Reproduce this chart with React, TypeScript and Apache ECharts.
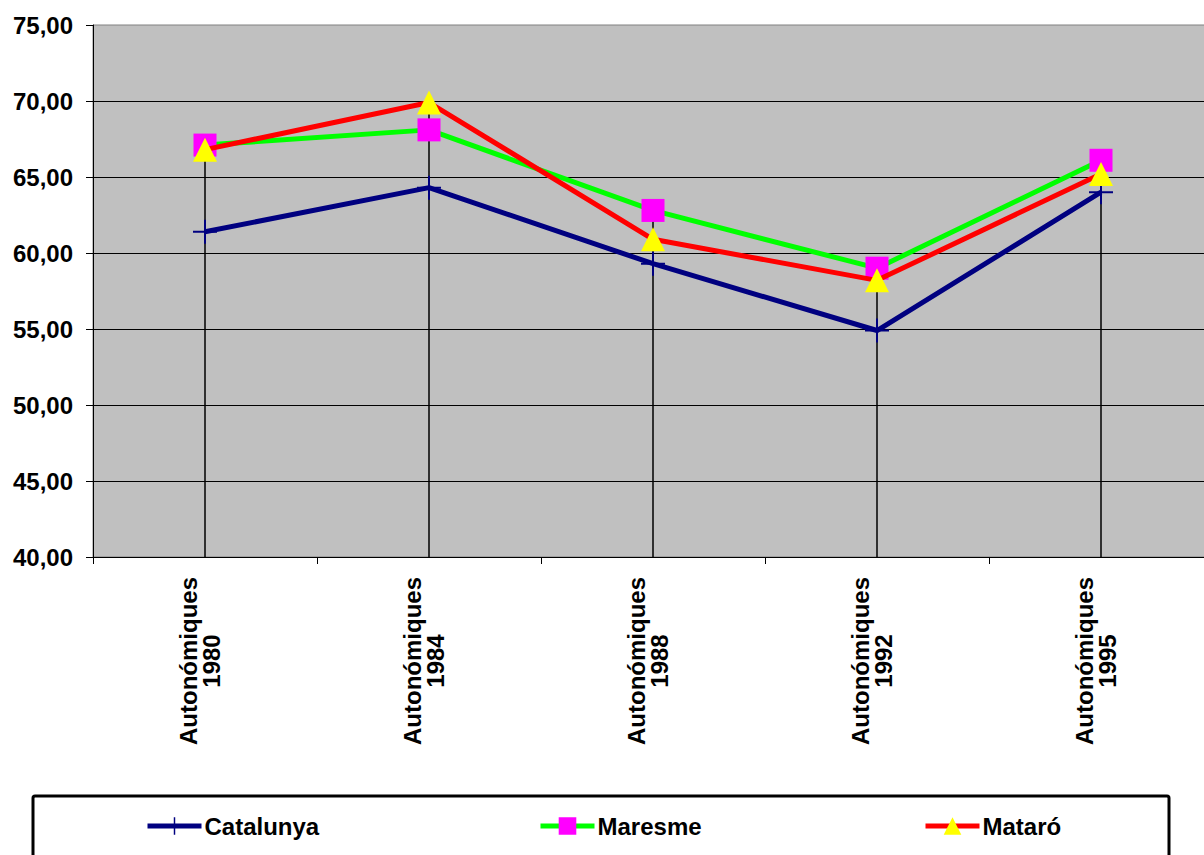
import React, { useEffect, useRef } from "react";
import * as echarts from "echarts";

const categories = [
  "Autonómiques\n1980",
  "Autonómiques\n1984",
  "Autonómiques\n1988",
  "Autonómiques\n1992",
  "Autonómiques\n1995",
];
const catalunya = [61.4, 64.3, 59.3, 54.9, 64.0];
const maresme = [67.1, 68.1, 62.8, 59.0, 66.1];
const mataro = [66.8, 69.9, 60.9, 58.2, 65.2];
const seriesNames = ["Catalunya", "Maresme", "Mataró"];
const yMin = 40;
const yMax = 75;
const yStep = 5;

const plusSymbol =
  "path://M-1,-12 h2 v11 h11 v2 h-11 v11 h-2 v-11 h-11 v-2 h11 z";

const FONT = "Arial, 'Liberation Sans', sans-serif";

export default function App() {
  const ref = useRef<HTMLDivElement>(null);
  useEffect(() => {
    if (!ref.current) return;
    const chart = echarts.init(ref.current, undefined, { renderer: "svg" });
    const dropData = categories.map((_, i) => [
      i,
      Math.max(catalunya[i], maresme[i], mataro[i]),
    ]);
    const legendBase = {
      top: 814,
      padding: 0,
      itemWidth: 54,
      itemHeight: 22,
      itemGap: 4,
      lineStyle: { width: 5 },
      textStyle: {
        fontFamily: FONT,
        fontWeight: "bold",
        fontSize: 24,
        color: "#000",
        padding: [0, 0, 0, -2],
      },
      selectedMode: false,
    };
    chart.setOption({
      animation: false,
      backgroundColor: "#fff",
      grid: {
        left: 93,
        top: 25,
        width: 1120,
        height: 532,
        show: true,
        backgroundColor: "#C0C0C0",
        borderColor: "#808080",
        borderWidth: 1,
      },
      legend: [
        { ...legendBase, left: 145, data: [seriesNames[0]] },
        { ...legendBase, left: 538, data: [seriesNames[1]] },
        { ...legendBase, left: 923, data: [seriesNames[2]] },
      ],
      graphic: [
        {
          type: "rect",
          z: -1,
          shape: { x: 33, y: 796, width: 1136, height: 120, r: 2 },
          style: { fill: "#fff", stroke: "#000", lineWidth: 3 },
        },
      ],
      xAxis: {
        type: "category",
        data: categories,
        boundaryGap: true,
        axisLine: { show: true, lineStyle: { color: "#000", width: 1 } },
        axisTick: { show: true, length: 7, lineStyle: { color: "#000" } },
        axisLabel: {
          rotate: 90,
          align: "center",
          verticalAlign: "middle",
          margin: 104,
          fontFamily: FONT,
          fontWeight: "bold",
          fontSize: 24,
          color: "#000",
          lineHeight: 23,
          interval: 0,
          formatter: (v: string) => v + "\n{s| }",
          rich: { s: { fontSize: 4, lineHeight: 10 } },
        },
        splitLine: { show: false },
      },
      yAxis: {
        type: "value",
        min: yMin,
        max: yMax,
        interval: yStep,
        axisLine: { show: true, lineStyle: { color: "#000", width: 1 } },
        axisTick: { show: true, length: 7, lineStyle: { color: "#000" } },
        axisLabel: {
          margin: 20,
          fontFamily: FONT,
          fontWeight: "bold",
          fontSize: 24,
          color: "#000",
          formatter: (v: number) => v.toFixed(2).replace(".", ","),
        },
        splitLine: {
          show: true,
          showMinLine: false,
          showMaxLine: false,
          lineStyle: { color: "#000", width: 1 },
        },
      },
      series: [
        {
          type: "custom",
          z: 1,
          silent: true,
          data: dropData,
          encode: { x: 0, y: 1 },
          renderItem: (params: any, api: any) => {
            const top = api.coord([api.value(0), api.value(1)]);
            const bottom = api.coord([api.value(0), yMin]);
            return {
              type: "line",
              shape: { x1: top[0], y1: top[1], x2: bottom[0], y2: bottom[1] },
              style: { stroke: "#000", lineWidth: 1.5 },
            };
          },
        },
        {
          name: seriesNames[0],
          type: "line",
          z: 2,
          data: catalunya,
          symbol: plusSymbol,
          symbolSize: 24,
          lineStyle: { color: "#000080", width: 5 },
          itemStyle: { color: "#000080" },
        },
        {
          name: seriesNames[1],
          type: "line",
          z: 3,
          data: maresme,
          symbol: "rect",
          symbolSize: 23,
          lineStyle: { color: "#00FF00", width: 5 },
          itemStyle: { color: "#FF00FF" },
        },
        {
          name: seriesNames[2],
          type: "line",
          z: 4,
          data: mataro,
          symbol: "triangle",
          symbolSize: [24, 24],
          lineStyle: { color: "#FF0000", width: 5 },
          itemStyle: { color: "#FFFF00" },
        },
      ],
    });
    return () => chart.dispose();
  }, []);
  return (
    <div
      style={{
        position: "fixed",
        left: 0,
        top: 0,
        width: 1204,
        height: 855,
        overflow: "hidden",
        background: "#fff",
      }}
    >
      <div ref={ref} style={{ width: 1230, height: 855 }} />
    </div>
  );
}
